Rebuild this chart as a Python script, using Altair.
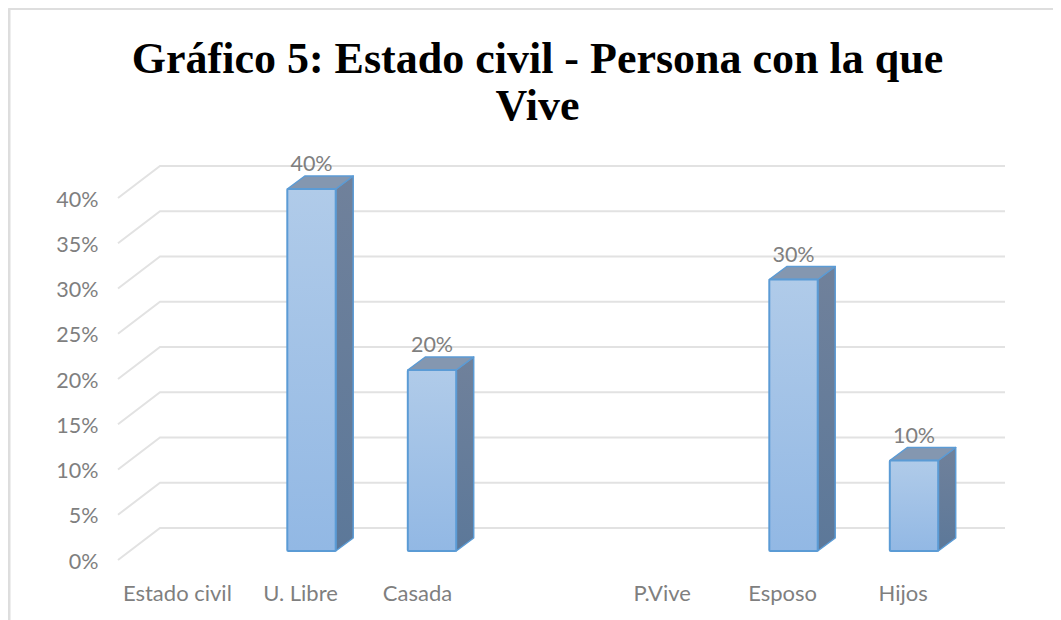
import altair as alt
import pandas as pd

title_lines = ["Gráfico 5: Estado civil - Persona con la que", "Vive"]
axis_cats = ["Estado civil", "U. Libre", "Casada", "P.Vive", "Esposo", "Hijos"]
axis_slots = [-0.113, 0.909, 1.88, 3.91, 4.91, 5.91]
bar_slots = [1, 2, 5, 6]
bar_values = [0.40, 0.20, 0.30, 0.10]
y_ticks = [0, 0.05, 0.10, 0.15, 0.20, 0.25, 0.30, 0.35, 0.40]

W, H = 1045, 612
PX_X = 120.5            # pixels per category slot
PX_Y = 905.0            # pixels per 100%
HALF = 24.2 / PX_X      # bar half width
LIFT = 9.0 / PX_Y       # bars stand in the middle of the floor
BDX, BDY = 17.5 / PX_X, 13.0 / PX_Y   # bar depth
GDX, GDY = 42.0 / PX_X, 32.0 / PX_Y   # wall depth
G_X0, G_X1 = (118 - 191) / PX_X, (1005 - 191) / PX_X

x_dom = [(8 - 191) / PX_X, (8 + W - 191) / PX_X]
y_dom = [(560 - 620) / PX_Y, (560 - 8) / PX_Y]
xs = alt.Scale(domain=x_dom, range=[0, W], nice=False, zero=False)
ys = alt.Scale(domain=y_dom, range=[H, 0], nice=False, zero=False)

grid = pd.DataFrame(
    [r for t in y_ticks for r in (
        {"t": t, "o": 0, "x": G_X0, "y": t},
        {"t": t, "o": 1, "x": G_X0 + GDX, "y": t + GDY},
        {"t": t, "o": 2, "x": G_X1, "y": t + GDY},
    )]
)
front, side, top = [], [], []
for s, v in zip(bar_slots, bar_values):
    a, b = s - HALF, s + HALF
    lo, hi = LIFT, v + LIFT
    front.append({"x": a, "x2": b, "y": lo, "y2": hi})
    side += [
        {"k": s, "x": b, "y": lo, "y2": hi},
        {"k": s, "x": b + BDX, "y": lo + BDY, "y2": hi + BDY},
    ]
    top += [
        {"k": s, "x": a, "y": hi, "y2": hi},
        {"k": s, "x": a + BDX, "y": hi, "y2": hi + BDY},
        {"k": s, "x": b, "y": hi, "y2": hi + BDY},
        {"k": s, "x": b + BDX, "y": hi + BDY, "y2": hi + BDY},
    ]
labels = pd.DataFrame({"x": bar_slots, "v": bar_values, "y": [v + LIFT for v in bar_values]})
cats = pd.DataFrame({"x": axis_slots, "c": axis_cats})

GREY = "#7f7f7f"
EDGE = "#5b9bd5"
FONT = "Lato"
y_axis = alt.Axis(
    values=y_ticks, format=".0%", title=None, domain=False, ticks=False, grid=False,
    offset=-95, labelPadding=5, labelFont=FONT, labelFontSize=21.5, labelColor=GREY,
    labelFlush=False, labelOverlap=False, labelOffset=2)
X = alt.X("x:Q", scale=xs, axis=None)
Y = alt.Y("y:Q", scale=ys, axis=y_axis)


def grad(c_top, c_bottom):
    return alt.Gradient(
        gradient="linear", x1=0, x2=0, y1=0, y2=1,
        stops=[alt.GradientStop(offset=0, color=c_top), alt.GradientStop(offset=1, color=c_bottom)],
    )


border_top = alt.Chart(pd.DataFrame({"a": [0]})).mark_rule(color="#dedede", strokeWidth=2).encode(
    x=alt.value(1), x2=alt.value(W), y=alt.value(1))
border_left = alt.Chart(pd.DataFrame({"a": [0]})).mark_rule(color="#dedede", strokeWidth=2).encode(
    x=alt.value(1.5), y=alt.value(0), y2=alt.value(H))

grid_l = alt.Chart(grid).mark_line(color="#e2e2e2", strokeWidth=2).encode(
    x=X, y=Y, detail="t:N", order="o:Q")

side_l = alt.Chart(pd.DataFrame(side)).mark_area(
    color=grad("#70819b", "#5c7899"), stroke=EDGE, strokeWidth=1.5, strokeJoin="round", opacity=1
).encode(x=X, y=Y, y2="y2:Q", detail="k:N")
top_l = alt.Chart(pd.DataFrame(top)).mark_area(
    color="#8497b0", stroke=EDGE, strokeWidth=1.5, strokeJoin="round", opacity=1
).encode(x=X, y=Y, y2="y2:Q", detail="k:N")
front_l = alt.Chart(pd.DataFrame(front)).mark_rect(
    color=grad("#b0cbe9", "#92b8e4"), stroke=EDGE, strokeWidth=2, cornerRadius=1
).encode(x=X, x2="x2:Q", y=Y, y2="y2:Q")

val_l = alt.Chart(labels).mark_text(font=FONT, fontSize=21.5, color=GREY, dy=-24, baseline="middle").encode(
    x=X, y=Y, text=alt.Text("v:Q", format=".0%"))
cat_l = alt.Chart(cats).mark_text(font=FONT, fontSize=22, color=GREY, baseline="middle").encode(
    x=X, y=alt.value(585.5), text="c:N")

chart = alt.layer(border_top, border_left, grid_l, side_l, top_l, front_l, val_l, cat_l).properties(
    width=W, height=H,
    padding=0,
    autosize=alt.AutoSizeParams(type="none"),
    title=alt.TitleParams(
        text=title_lines, font="Liberation Serif", fontSize=44, fontWeight="bold", color="#000000",
        anchor="middle", lineHeight=47, dx=7, dy=122, baseline="top", offset=0),
).configure_view(stroke=None).configure(background="#ffffff")

chart.save("out.html", embed_options={"renderer": "svg", "actions": False})
